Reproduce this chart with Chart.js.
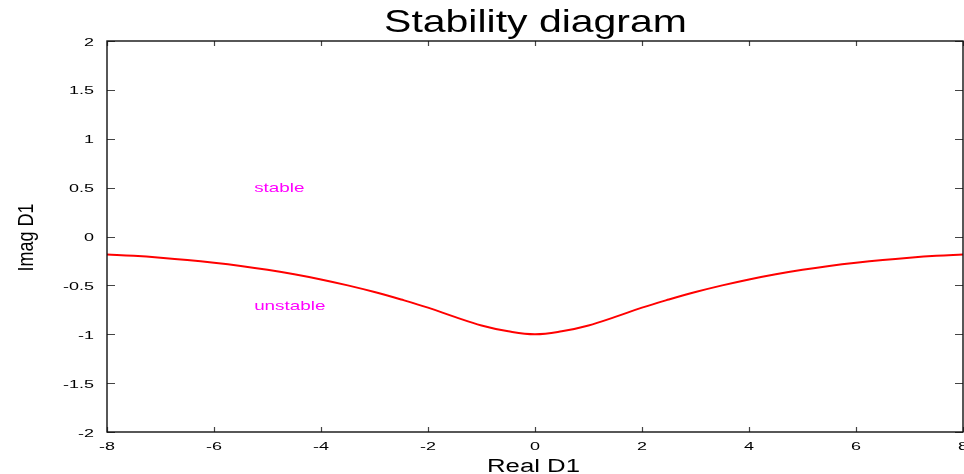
<!DOCTYPE html>
<html>
<head>
<meta charset="utf-8">
<script src="https://cdn.jsdelivr.net/npm/chart.js@4"></script>
<style>
html,body{margin:0;padding:0;background:#fff;}
#wrap{width:964px;height:474px;position:relative;}
</style>
</head>
<body>
<div id="wrap"><canvas id="c"></canvas></div>
<script>
// ---- data ----
const realD1 = [-8,-7.5,-7,-6.5,-6,-5.5,-5,-4.5,-4,-3.5,-3,-2.5,-2,-1.5,-1,-0.5,0,0.5,1,1.5,2,2.5,3,3.5,4,4.5,5,5.5,6,6.5,7,7.5,8];
const imagD1 = [-0.184,-0.198,-0.217,-0.240,-0.268,-0.301,-0.340,-0.386,-0.439,-0.500,-0.568,-0.645,-0.728,-0.822,-0.910,-0.970,-1.0,-0.970,-0.910,-0.822,-0.728,-0.645,-0.568,-0.500,-0.439,-0.386,-0.340,-0.301,-0.268,-0.240,-0.217,-0.198,-0.184];
const xTickLabels = [-8,-6,-4,-2,0,2,4,6,8];
const yTickLabels = [-2,-1.5,-1,-0.5,0,0.5,1,1.5,2];
const regionLabels = ["stable","unstable"];
const regionLabelX = [-5.25,-5.25];
const regionLabelY = [0.5,-0.7];
const titleText = "Stability diagram";
const xTitle = "Real D1";
const yTitle = "Imag D1";

const FONT = '"Liberation Sans", Arial, Helvetica, sans-serif';

function stretchedText(ctx, str, x, y, size, stretch, align, color, rotate) {
  ctx.save();
  ctx.translate(x, y);
  ctx.scale(stretch, 1);
  if (rotate) ctx.rotate(rotate);
  ctx.font = size + 'px ' + FONT;
  ctx.fillStyle = color;
  ctx.textAlign = align;
  ctx.textBaseline = 'alphabetic';
  ctx.fillText(str, 0, 0);
  ctx.restore();
}

const gnuplotFrame = {
  id: 'gnuplotFrame',
  afterDraw(chart) {
    const ctx = chart.ctx;
    const a = chart.chartArea;
    const xs = chart.scales.x, ys = chart.scales.y;
    ctx.save();
    // tick marks (inward, all four sides)
    ctx.strokeStyle = '#444';
    ctx.lineWidth = 1.2;
    ctx.beginPath();
    xTickLabels.forEach(v => {
      const px = Math.round(xs.getPixelForValue(v)) + 0.5;
      ctx.moveTo(px, a.bottom); ctx.lineTo(px, a.bottom - 5);
      ctx.moveTo(px, a.top); ctx.lineTo(px, a.top + 5);
    });
    yTickLabels.forEach(v => {
      const py = Math.round(ys.getPixelForValue(v)) + 0.5;
      ctx.moveTo(a.left, py); ctx.lineTo(a.left + 8, py);
      ctx.moveTo(a.right, py); ctx.lineTo(a.right - 8, py);
    });
    ctx.stroke();
    // frame
    ctx.strokeStyle = '#111';
    ctx.lineWidth = 1.4;
    ctx.strokeRect(a.left, a.top, a.right - a.left, a.bottom - a.top);
    ctx.restore();

    // tick labels
    yTickLabels.forEach(v => {
      const py = ys.getPixelForValue(v);
      stretchedText(ctx, String(v), a.left - 13, py + 4.5, 11.6, 1.55, 'right', '#000');
    });
    xTickLabels.forEach(v => {
      const px = xs.getPixelForValue(v);
      stretchedText(ctx, String(v), px, a.bottom + 18, 11.6, 1.55, 'center', '#000');
    });
    // region labels
    regionLabels.forEach((t, i) => {
      const px = xs.getPixelForValue(regionLabelX[i]);
      const py = ys.getPixelForValue(regionLabelY[i]);
      stretchedText(ctx, t, px, py + 4.6, 13, 1.45, 'left', '#ff00ff');
    });
    // title and axis titles
    stretchedText(ctx, titleText, (a.left + a.right) / 2 + 0.5, 32.3, 30.7, 1.335, 'center', '#000');
    stretchedText(ctx, xTitle, (a.left + a.right) / 2 - 1.5, 471.5, 18, 1.43, 'center', '#000');
    stretchedText(ctx, yTitle, 33, (a.top + a.bottom) / 2 + 1, 18, 1.24, 'center', '#000', -Math.PI / 2);
  }
};

new Chart(document.getElementById('c'), {
  type: 'line',
  data: {
    datasets: [{
      data: realD1.map((x, i) => ({ x: x, y: imagD1[i] })),
      borderColor: '#ff0000',
      borderWidth: 2,
      pointRadius: 0,
      fill: false,
      tension: 0.4
    }]
  },
  options: {
    responsive: true,
    maintainAspectRatio: false,
    animation: false,
    events: [],
    layout: { padding: { left: 107, right: 1, top: 41, bottom: 42 } },
    plugins: { legend: { display: false }, title: { display: false }, tooltip: { enabled: false } },
    scales: {
      x: { type: 'linear', display: false, min: -8, max: 8 },
      y: { type: 'linear', display: false, min: -2, max: 2 }
    }
  },
  plugins: [gnuplotFrame]
});
</script>
</body>
</html>
